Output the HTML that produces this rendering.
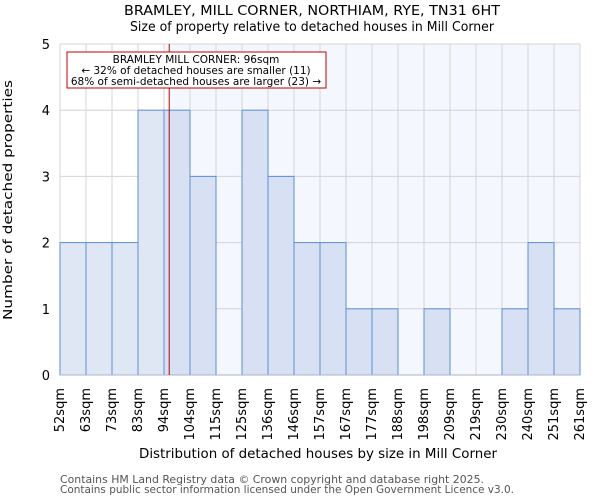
<!DOCTYPE html>
<html><head><meta charset="utf-8"><style>
body{margin:0;background:#fff;font-family:"DejaVu Sans","Liberation Sans",sans-serif;}
svg text{font-family:"DejaVu Sans","Liberation Sans",sans-serif;}
</style></head><body>
<svg id="c" width="600" height="500" xmlns="http://www.w3.org/2000/svg">
<text x="124" y="15" textLength="376" lengthAdjust="spacingAndGlyphs" font-size="13">BRAMLEY, MILL CORNER, NORTHIAM, RYE, TN31 6HT</text>
<text x="130" y="31" textLength="364" lengthAdjust="spacingAndGlyphs" font-size="13">Size of property relative to detached houses in Mill Corner</text>
<g id="plot"></g>
<text x="139" y="458" textLength="358" lengthAdjust="spacingAndGlyphs" font-size="13">Distribution of detached houses by size in Mill Corner</text>
<text transform="translate(12,320) rotate(-90)" textLength="240" lengthAdjust="spacingAndGlyphs" font-size="12">Number of detached properties</text>
<text x="60" y="483" textLength="424" lengthAdjust="spacingAndGlyphs" font-size="10.5" fill="#555">Contains HM Land Registry data © Crown copyright and database right 2025.</text>
<text x="60" y="493" textLength="454" lengthAdjust="spacingAndGlyphs" font-size="10.5" fill="#555">Contains public sector information licensed under the Open Government Licence v3.0.</text>
</svg>
<script>
const binLabels=["52sqm","63sqm","73sqm","83sqm","94sqm","104sqm","115sqm","125sqm","136sqm","146sqm","157sqm","167sqm","177sqm","188sqm","198sqm","209sqm","219sqm","230sqm","240sqm","251sqm","261sqm"];
const binEdges=[52,63,73,83,94,104,115,125,136,146,157,167,177,188,198,209,219,230,240,251,261];
const counts=[2,2,2,4,4,3,0,4,3,2,2,1,1,0,1,0,0,1,2,1];
const yTicks=[0,1,2,3,4,5];
const markerValue=96;
const NS="http://www.w3.org/2000/svg";
const L=60,R=580,T=44,B=375,yMax=5;
const n=counts.length,bw=(R-L)/n;
const xi=i=>L+i*bw;
const y=v=>B-(B-T)*v/yMax;
function xv(v){for(let i=0;i<binEdges.length-1;i++){if(v<=binEdges[i+1])return xi(i)+bw*(v-binEdges[i])/(binEdges[i+1]-binEdges[i]);}return R;}
const g=document.getElementById('plot');
function mk(t,a){const e=document.createElementNS(NS,t);for(const k in a)e.setAttribute(k,a[k]);g.appendChild(e);return e;}
const mx=xv(markerValue);
let e=mk('rect',{x:mx,y:T,width:R-mx,height:B-T,fill:'#f4f7fd'});


for(let i=0;i<=n;i++){e=mk('line',{x1:xi(i),x2:xi(i),y1:T,y2:B,stroke:'#d4d4d4','stroke-width':1});

}
yTicks.forEach(t=>{e=mk('line',{x1:L,x2:R,y1:y(t),y2:y(t),stroke:'#d4d4d4','stroke-width':1});


e=mk('text',{x:L-10,y:y(t)+5,'text-anchor':'end','font-size':13});e.textContent=t;

});
counts.forEach((c,i)=>{if(c>0){const left=binEdges[i+1]<=markerValue;e=mk('rect',{x:xi(i),y:y(c),width:bw,height:B-y(c),fill:left?'#dfe7f4':'#d7e1f3',stroke:'#5b8fd6','stroke-width':1});

}});
binLabels.forEach((l,i)=>{e=mk('text',{transform:`translate(${xi(i)+4},${B+13}) rotate(-90)`,'text-anchor':'end','font-size':13});e.textContent=l;

});
e=mk('line',{x1:L,x2:R,y1:B,y2:B,stroke:'#a8b4c4','stroke-width':1});


e=mk('line',{x1:mx,x2:mx,y1:T,y2:B,stroke:'#c00000','stroke-width':1});


e=mk('rect',{x:67,y:52,width:259,height:36,fill:'#fff',stroke:'#c00000','stroke-width':1});


["BRAMLEY MILL CORNER: 96sqm","← 32% of detached houses are smaller (11)","68% of semi-detached houses are larger (23) →"].forEach((s,i)=>{e=mk('text',{x:196,y:63+i*11,'text-anchor':'middle','font-size':10.5});e.textContent=s;

});
</script>
</body></html>
